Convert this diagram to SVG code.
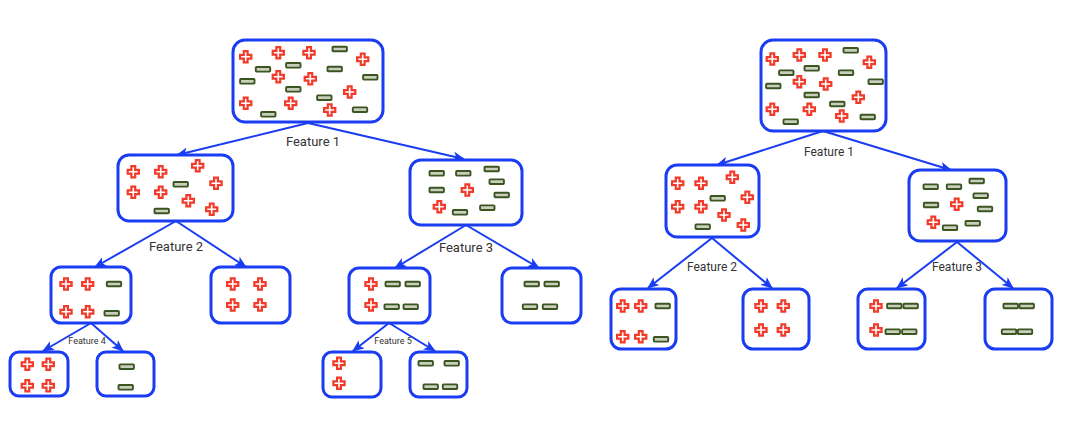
<svg xmlns="http://www.w3.org/2000/svg" xmlns:xlink="http://www.w3.org/1999/xlink" width="1067" height="427" viewBox="0 0 1067 427">
  <style>
    .node { fill: #ffffff; stroke: #1a3cf2; stroke-width: 3; }
    .edge { stroke: #1a3cf2; stroke-width: 2; fill: none; marker-end: url(#arrow); }
    .lbl { font-family: Roboto, "Liberation Sans", sans-serif; fill: #333333; text-anchor: middle; }
    .l1 { font-size: 13px; }
    .l2 { font-size: 9px; }
  </style>
  <defs>
    <marker id="arrow" markerUnits="userSpaceOnUse" markerWidth="12" markerHeight="10" refX="11" refY="5" orient="auto">
      <path d="M0,0 L12,5 L0,10 L3,5 Z" fill="#1a3cf2"/>
    </marker>
    <!-- red plus glyph -->
    <path id="p" d="M-1.9,-5.6 h3.8 v3.7 h3.7 v3.8 h-3.7 v3.7 h-3.8 v-3.7 h-3.7 v-3.8 h3.7 Z" fill="#ffffff" stroke="#f23a2a" stroke-width="2.2" stroke-linejoin="miter"/>
    <!-- green minus glyph -->
    <rect id="m" x="-7.2" y="-2.3" width="14.4" height="4.6" rx="0.8" fill="#c9cfbc" stroke="#3a5520" stroke-width="1.9"/>
  </defs>
  <rect width="1067" height="427" fill="#ffffff"/>

  <!-- connectors -->
  <g id="connectors">
    <line class="edge" x1="308" y1="123" x2="177" y2="155"/>
    <line class="edge" x1="308" y1="123" x2="464" y2="159"/>
    <line class="edge" x1="176" y1="221" x2="95" y2="267"/>
    <line class="edge" x1="176" y1="221" x2="246" y2="267"/>
    <line class="edge" x1="466" y1="225" x2="395" y2="268"/>
    <line class="edge" x1="466" y1="225" x2="539" y2="268"/>
    <line class="edge" x1="91" y1="323" x2="43" y2="351"/>
    <line class="edge" x1="91" y1="323" x2="123" y2="351"/>
    <line class="edge" x1="389" y1="323" x2="353" y2="351"/>
    <line class="edge" x1="389" y1="323" x2="435" y2="351"/>
    <line class="edge" x1="823" y1="131" x2="717" y2="165"/>
    <line class="edge" x1="823" y1="131" x2="951" y2="170"/>
    <line class="edge" x1="712" y1="238" x2="648" y2="288"/>
    <line class="edge" x1="712" y1="238" x2="772" y2="288"/>
    <line class="edge" x1="957" y1="242" x2="897" y2="288"/>
    <line class="edge" x1="957" y1="242" x2="1013" y2="288"/>
  </g>

  <!-- labels -->
  <g id="labels">
    <text class="lbl l1" x="313" y="146">Feature 1</text>
    <text class="lbl l1" x="176" y="251">Feature 2</text>
    <text class="lbl l1" x="466" y="252">Feature 3</text>
    <text class="lbl l2" x="87" y="344">Feature 4</text>
    <text class="lbl l2" x="393" y="344">Feature 5</text>
    <text class="lbl l1" x="829" y="156" style="font-size:12px">Feature 1</text>
    <text class="lbl l1" x="712" y="271" style="font-size:12px">Feature 2</text>
    <text class="lbl l1" x="957" y="271" style="font-size:12px">Feature 3</text>
  </g>

  <!-- left tree -->
  <g id="L-root">
    <rect class="node" x="233" y="40" width="150" height="82" rx="12"/>
    <use href="#p" x="245.7" y="56.7"/><use href="#p" x="278.3" y="52.7"/><use href="#p" x="309" y="52.7"/>
    <use href="#p" x="362.7" y="59.3"/><use href="#p" x="278.3" y="76.7"/><use href="#p" x="310.3" y="78.7"/>
    <use href="#p" x="349.7" y="92"/><use href="#p" x="245.7" y="103.3"/><use href="#p" x="290.7" y="103.3"/>
    <use href="#p" x="329.7" y="110"/>
    <use href="#m" x="339.7" y="49"/><use href="#m" x="263" y="69.3"/><use href="#m" x="293.3" y="65.3"/>
    <use href="#m" x="334.7" y="69"/><use href="#m" x="370.3" y="77.3"/><use href="#m" x="247.3" y="81.3"/>
    <use href="#m" x="293.3" y="89.3"/><use href="#m" x="324.3" y="97.7"/><use href="#m" x="268.3" y="114.3"/>
    <use href="#m" x="360" y="109.7"/>
  </g>
  <g id="L-left">
    <rect class="node" x="118" y="155" width="115" height="66" rx="11"/>
    <use href="#p" x="133.3" y="171.7"/><use href="#p" x="160.7" y="171.7"/><use href="#p" x="197.7" y="165.7"/>
    <use href="#p" x="216" y="183.3"/><use href="#p" x="133.3" y="192.3"/><use href="#p" x="160.7" y="192.3"/>
    <use href="#p" x="188.3" y="200.7"/><use href="#p" x="211.7" y="209.3"/>
    <use href="#m" x="180.7" y="184.3"/><use href="#m" x="161.7" y="211"/>
  </g>
  <g id="L-right">
    <rect class="node" x="410" y="160" width="112" height="65" rx="11"/>
    <use href="#m" x="436.7" y="173.3"/><use href="#m" x="463.3" y="173.3"/><use href="#m" x="491.7" y="169"/>
    <use href="#m" x="496.7" y="181.7"/><use href="#m" x="436.7" y="190"/><use href="#m" x="501.7" y="195"/>
    <use href="#m" x="460" y="212.3"/><use href="#m" x="487.3" y="207.7"/>
    <use href="#p" x="467.3" y="190"/><use href="#p" x="439.3" y="206.7"/>
  </g>
  <g id="L-A">
    <rect class="node" x="51" y="267" width="80" height="56" rx="10"/>
    <use href="#p" x="66" y="284"/><use href="#p" x="87.7" y="284"/><use href="#p" x="66" y="311.7"/><use href="#p" x="87.7" y="311.7"/>
    <use href="#m" x="114" y="284"/><use href="#m" x="111.7" y="313.3"/>
  </g>
  <g id="L-B">
    <rect class="node" x="211" y="267" width="79" height="56" rx="10"/>
    <use href="#p" x="232.7" y="284"/><use href="#p" x="260" y="284"/><use href="#p" x="232.7" y="305"/><use href="#p" x="260" y="305"/>
  </g>
  <g id="L-C">
    <rect class="node" x="349" y="268" width="81" height="55" rx="10"/>
    <use href="#p" x="371" y="284"/><use href="#p" x="371" y="305"/>
    <use href="#m" x="392.7" y="284"/><use href="#m" x="412.7" y="284"/><use href="#m" x="391.7" y="306.7"/><use href="#m" x="410.7" y="306.7"/>
  </g>
  <g id="L-D">
    <rect class="node" x="502" y="268" width="79" height="55" rx="10"/>
    <use href="#m" x="531.7" y="284"/><use href="#m" x="551.7" y="284"/><use href="#m" x="530" y="306.7"/><use href="#m" x="550" y="306.7"/>
  </g>
  <g id="L-E">
    <rect class="node" x="10" y="352" width="58" height="44" rx="9"/>
    <use href="#p" x="27.3" y="364.3"/><use href="#p" x="48.3" y="364.3"/><use href="#p" x="27.3" y="385.7"/><use href="#p" x="48.3" y="385.7"/>
  </g>
  <g id="L-F">
    <rect class="node" x="97" y="352" width="57" height="44" rx="9"/>
    <use href="#m" x="126.7" y="366.7"/><use href="#m" x="125.7" y="387.3"/>
  </g>
  <g id="L-G">
    <rect class="node" x="323" y="352" width="58" height="45" rx="9"/>
    <use href="#p" x="339" y="363.3"/><use href="#p" x="339" y="383.3"/>
  </g>
  <g id="L-H">
    <rect class="node" x="410" y="352" width="57" height="45" rx="9"/>
    <use href="#m" x="425.7" y="363.3"/><use href="#m" x="451.7" y="363.3"/><use href="#m" x="430.7" y="386.7"/><use href="#m" x="450" y="386.7"/>
  </g>

  <!-- right tree -->
  <g id="R-root">
    <rect class="node" x="761" y="40" width="125" height="91" rx="12"/>
    <use href="#p" x="772.3" y="59"/><use href="#p" x="799.3" y="55"/><use href="#p" x="825" y="55"/>
    <use href="#p" x="869.3" y="62.3"/><use href="#p" x="799.3" y="81.7"/><use href="#p" x="825.7" y="84"/>
    <use href="#p" x="858.3" y="97.3"/><use href="#p" x="772.3" y="109.3"/><use href="#p" x="809.3" y="109.3"/>
    <use href="#p" x="841.7" y="116"/>
    <use href="#m" x="850.7" y="50.3"/><use href="#m" x="786.3" y="72.7"/><use href="#m" x="811.7" y="68.3"/>
    <use href="#m" x="846" y="72.7"/><use href="#m" x="875.7" y="81.7"/><use href="#m" x="773.3" y="86"/>
    <use href="#m" x="811.7" y="95"/><use href="#m" x="837.3" y="104"/><use href="#m" x="790.7" y="121.7"/>
    <use href="#m" x="867.7" y="117"/>
  </g>
  <g id="R-left">
    <rect class="node" x="666" y="165" width="93" height="72" rx="11"/>
    <use href="#p" x="677.7" y="183.3"/><use href="#p" x="701" y="183.3"/><use href="#p" x="732.3" y="177.3"/>
    <use href="#p" x="747.3" y="197.3"/><use href="#p" x="677.7" y="206.7"/><use href="#p" x="701" y="206.7"/>
    <use href="#p" x="724" y="215"/><use href="#p" x="743.3" y="225"/>
    <use href="#m" x="717.7" y="198.3"/><use href="#m" x="702.7" y="226.7"/>
  </g>
  <g id="R-right">
    <rect class="node" x="909" y="170" width="97" height="71" rx="11"/>
    <use href="#m" x="930.7" y="186.7"/><use href="#m" x="954" y="186.7"/><use href="#m" x="976.7" y="181"/>
    <use href="#m" x="980.7" y="195.7"/><use href="#m" x="985" y="209"/><use href="#m" x="931" y="205"/>
    <use href="#m" x="950" y="227.7"/><use href="#m" x="972.7" y="223.3"/>
    <use href="#p" x="956.7" y="204.3"/><use href="#p" x="933.3" y="222.3"/>
  </g>
  <g id="R-A">
    <rect class="node" x="611" y="289" width="65" height="60" rx="10"/>
    <use href="#p" x="622.7" y="306"/><use href="#p" x="640.7" y="306"/><use href="#p" x="622.7" y="336.7"/><use href="#p" x="640.7" y="336.7"/>
    <use href="#m" x="662.7" y="306"/><use href="#m" x="661" y="339.3"/>
  </g>
  <g id="R-B">
    <rect class="node" x="743" y="289" width="66" height="60" rx="10"/>
    <use href="#p" x="761" y="306"/><use href="#p" x="783.3" y="306"/><use href="#p" x="761" y="330"/><use href="#p" x="783.3" y="330"/>
  </g>
  <g id="R-C">
    <rect class="node" x="858" y="289" width="67" height="60" rx="10"/>
    <use href="#p" x="876" y="306"/><use href="#p" x="876" y="330"/>
    <use href="#m" x="894.3" y="306"/><use href="#m" x="910.7" y="306"/><use href="#m" x="892.7" y="331.7"/><use href="#m" x="909.3" y="331.7"/>
  </g>
  <g id="R-D">
    <rect class="node" x="985" y="289" width="67" height="60" rx="10"/>
    <use href="#m" x="1010.7" y="306"/><use href="#m" x="1026.7" y="306"/><use href="#m" x="1009" y="331.7"/><use href="#m" x="1025" y="331.7"/>
  </g>
</svg>
